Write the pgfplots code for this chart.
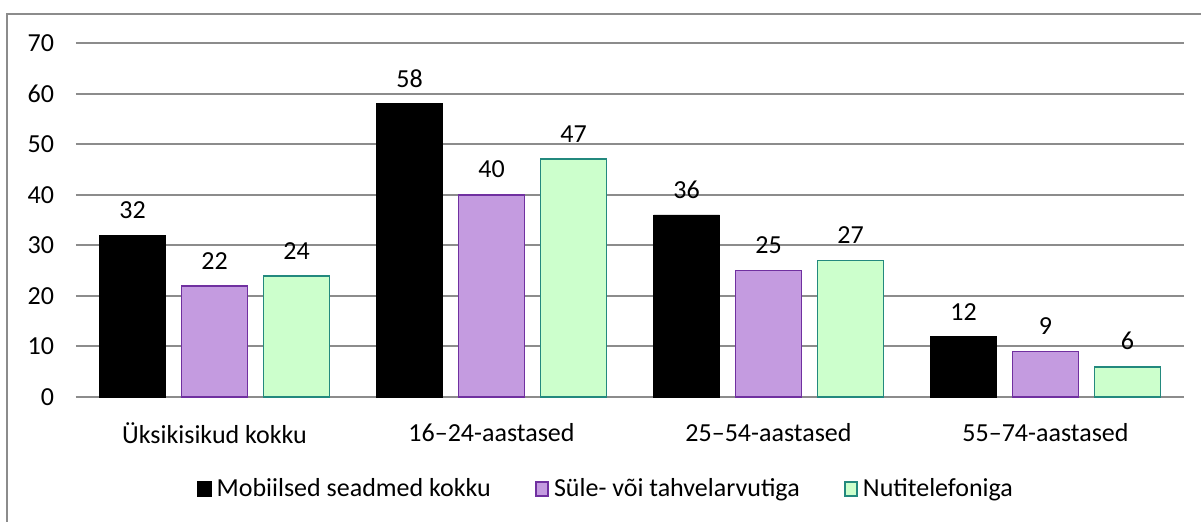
\documentclass[border=0pt]{standalone}
\usepackage{fontspec}
\setmainfont{Carlito}
\usepackage{pgfplots}
\pgfplotsset{compat=1.18}

\definecolor{gridgray}{HTML}{8C8C8C}
\definecolor{lilac}{HTML}{C49BE0}
\definecolor{lilacedge}{HTML}{7030A0}
\definecolor{mint}{HTML}{CCFFCC}
\definecolor{mintedge}{HTML}{23897E}

\pgfplotsset{
  sqlegend/.style={legend image code/.code={
    \draw[##1, line width=0.9pt] (0pt,-3.6pt) rectangle (6.2pt,3.6pt);}}
}

\begin{document}
\begin{tikzpicture}
\useasboundingbox (0,0) rectangle (600.5pt,260.5pt);
\draw[gridgray, line width=1pt] (3.5pt,-1pt) -- (3.5pt,253.5pt) -- (601.5pt,253.5pt);
\begin{axis}[
    at={(38pt,62pt)}, anchor=south west,
    scale only axis,
    width=554pt, height=177pt,
    ybar=8pt, bar width=33pt,
    xmin=-0.5, xmax=3.5, enlarge x limits=false,
    ymin=0, ymax=70, ytick={0,10,...,70},
    xtick=data,
    xticklabels={Üksikisikud kokku, 16–24-aastased, 25–54-aastased, 55–74-aastased},
    major tick length=0pt,
    separate axis lines,
    axis x line*=bottom,
    axis y line*=left,
    x axis line style={draw=gridgray, line width=1pt},
    y axis line style={draw=none},
    ymajorgrids,
    major grid style={draw=gridgray, line width=1pt},
    /pgf/number format/assume math mode=true,
    tick label style={font=\fontsize{13}{15}\selectfont},
    yticklabel style={xshift=-7.5pt},
    xticklabel style={yshift=-9.5pt},
    nodes near coords,
    nodes near coords style={font=\fontsize{13}{15}\selectfont, text=black, yshift=4.5pt},
    legend columns=-1,
    legend style={at={(0.1092,-0.26)}, anchor=west, draw=none, fill=none,
      inner xsep=0pt, inner ysep=0pt,
      font=\fontsize{13}{15}\selectfont,
      /tikz/every even column/.append style={column sep=20pt},
      /tikz/every odd column/.append style={column sep=0.5pt}},
]
\addplot+[sqlegend, draw=black, fill=black] coordinates {(0,32) (1,58) (2,36) (3,12)};
\addplot+[sqlegend, draw=lilacedge, fill=lilac, line width=0.9pt] coordinates {(0,22) (1,40) (2,25) (3,9)};
\addplot+[sqlegend, draw=mintedge, fill=mint, line width=0.9pt] coordinates {(0,24) (1,47) (2,27) (3,6)};
\legend{Mobiilsed seadmed kokku, Süle- või tahvelarvutiga, Nutitelefoniga}
\end{axis}
\end{tikzpicture}
\end{document}
